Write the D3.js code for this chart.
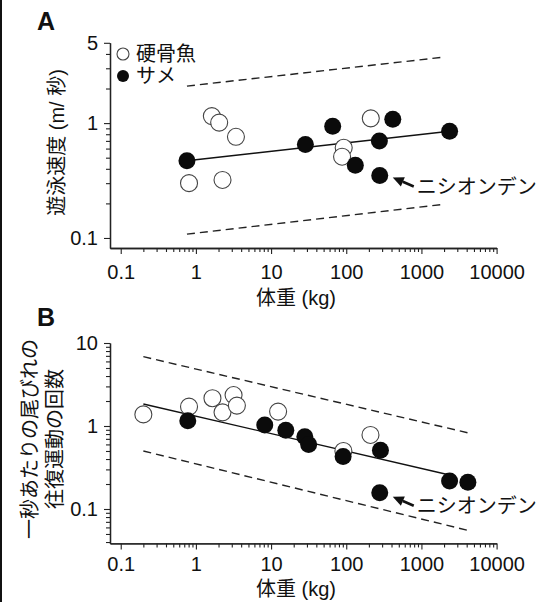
<!DOCTYPE html>
<html><head><meta charset="utf-8">
<script src="https://cdn.jsdelivr.net/npm/d3@7"></script>
<style>body{margin:0;background:#fff}svg{display:block}</style>
</head><body>
<svg id="c" width="543" height="602"></svg>
<script>
// ---------- data ----------
const majorTicksX = [0.1, 1, 10, 100, 1000, 10000];
const majorTicksYA = [0.1, 1, 5];
const majorTicksYB = [0.1, 1, 10];
const xTitle = "体重 (kg)";
const yTitleA = "遊泳速度 (m/ 秒)";
const yTitleB = ["一秒あたりの尾びれの", "往復運動の回数"];
const legendLabels = ["硬骨魚", "サメ"];
const noteLabel = "ニシオンデン";

// Panel A: swimming speed (m/s)
const boneMassA  = [1.63, 2.04, 3.41, 0.81, 2.26, 212, 92.5, 88];
const boneSpeedA = [1.15, 1.01, 0.76, 0.30, 0.32, 1.10, 0.61, 0.51];
const sharkMassA  = [0.76, 28.6, 66, 276, 416, 2370, 132, 279];
const sharkSpeedA = [0.47, 0.65, 0.94, 0.70, 1.08, 0.85, 0.43, 0.35];
const fitMassA = [0.76, 2370];
const fitSpeedA = [0.47, 0.85];
const bandMassA = [0.76, 2050];
const upperSpeedA = [2.10, 3.76];
const lowerSpeedA = [0.108, 0.197];
const noteIndexA = 7; // Greenland shark

// Panel B: tail-beat frequency (per second)
const boneMassB = [0.20, 0.81, 1.66, 3.17, 2.26, 3.51, 12.4, 91.6, 210];
const boneFreqB = [1.38, 1.71, 2.16, 2.36, 1.46, 1.76, 1.49, 0.50, 0.78];
const sharkMassB = [0.78, 8.24, 15.7, 28.1, 31.6, 90.8, 285, 2370, 4150, 279];
const sharkFreqB = [1.16, 1.03, 0.89, 0.74, 0.60, 0.43, 0.51, 0.217, 0.21, 0.157];
const fitMassB = [0.2, 2370];
const fitFreqB = [1.84, 0.257];
const bandMassB = [0.2, 4100];
const upperFreqB = [6.84, 0.83];
const lowerFreqB = [0.50, 0.0554];
const noteIndexB = 9;

// ---------- drawing ----------
const FONT = "'Liberation Sans', Arial, 'Noto Sans CJK JP', sans-serif";
const svg = d3.select("#c");
svg.append("rect").attr("width", 543).attr("height", 602).attr("fill", "#fff");
svg.append("line").attr("x1", 1).attr("x2", 1).attr("y1", 0).attr("y2", 602)
  .attr("stroke", "#111").attr("stroke-width", 2);

const R = 8.5;

function panel(cfg) {
  const x = d3.scaleLog().domain([0.072, 10000]).range([110, 496.6]);
  const y = d3.scaleLog().domain(cfg.yDomain).range(cfg.yRange);
  const g = svg.append("g");

  const minorX = x.ticks().filter(v => v >= 0.1 && v <= 10000 && !majorTicksX.includes(v));
  const minorY = y.ticks().filter(v => v >= cfg.minYTick && !cfg.majorY.includes(v));
  const x0 = y.range()[0];

  // minor ticks
  g.append("g").attr("transform", `translate(0,${x0})`)
    .call(d3.axisBottom(x).tickValues(minorX).tickSize(4).tickSizeOuter(0).tickFormat(""));
  g.append("g").attr("transform", `translate(110,0)`)
    .call(d3.axisLeft(y).tickValues(minorY).tickSize(4).tickSizeOuter(0).tickFormat(""));
  // major ticks
  g.append("g").attr("transform", `translate(0,${x0})`)
    .call(d3.axisBottom(x).tickValues(majorTicksX).tickSize(6).tickSizeOuter(0)
      .tickPadding(cfg.xPad).tickFormat(d3.format("~g")));
  g.append("g").attr("transform", `translate(110,0)`)
    .call(d3.axisLeft(y).tickValues(cfg.majorY).tickSize(6).tickSizeOuter(0)
      .tickPadding(6).tickFormat(d3.format("~g")));
  g.selectAll(".domain").attr("stroke", "#222").attr("stroke-width", 1.3);
  g.selectAll(".tick line").attr("stroke", "#222").attr("stroke-width", 1.1);
  g.selectAll(".tick text").attr("font-family", FONT).attr("font-size", 20).attr("fill", "#111");

  // bands
  const line = d3.line().x(d => x(d[0])).y(d => y(d[1]));
  [cfg.upper, cfg.lower].forEach(vals => {
    g.append("path").attr("d", line(d3.zip(cfg.bandMass, vals)))
      .attr("fill", "none").attr("stroke", "#222").attr("stroke-width", 1.4)
      .attr("stroke-dasharray", "8,5");
  });
  g.append("path").attr("d", line(d3.zip(cfg.fitMass, cfg.fit)))
    .attr("fill", "none").attr("stroke", "#111").attr("stroke-width", 1.4);

  g.selectAll(".open").data(d3.zip(cfg.boneMass, cfg.bone)).join("circle")
    .attr("cx", d => x(d[0])).attr("cy", d => y(d[1])).attr("r", R)
    .attr("fill", "#fff").attr("stroke", "#444").attr("stroke-width", 1.1);
  g.selectAll(".filled").data(d3.zip(cfg.sharkMass, cfg.shark)).join("circle")
    .attr("cx", d => x(d[0])).attr("cy", d => y(d[1])).attr("r", R)
    .attr("fill", "#0b0b0b");

  // annotation arrow
  const px = x(cfg.sharkMass[cfg.noteIdx]), py = y(cfg.shark[cfg.noteIdx]);
  const hx = px + 13, hy = py + cfg.headDy;
  const tx = px + 34, ty = hy + 9;
  const ang = Math.atan2(hy - ty, hx - tx);
  const L = 11, W = 5;
  const bx = hx - L * Math.cos(ang), by = hy - L * Math.sin(ang);
  g.append("line").attr("x1", tx).attr("y1", ty).attr("x2", bx).attr("y2", by)
    .attr("stroke", "#111").attr("stroke-width", 2.6);
  g.append("path").attr("d", `M${hx},${hy} L${bx + W * Math.sin(ang)},${by - W * Math.cos(ang)} L${bx - W * Math.sin(ang)},${by + W * Math.cos(ang)} Z`)
    .attr("fill", "#111");
  g.append("text").attr("x", px + 37).attr("y", ty).attr("dy", "0.36em")
    .attr("font-family", FONT).attr("font-size", 20).attr("fill", "#111").text(noteLabel);

  // x title
  g.append("text").attr("x", 296).attr("y", cfg.xTitleY).attr("text-anchor", "middle")
    .attr("dy", "0.36em").attr("font-family", FONT).attr("font-size", 20).attr("fill", "#111").text(xTitle);
  // panel letter
  g.append("text").attr("x", 37).attr("y", cfg.letterY).attr("font-family", FONT)
    .attr("font-weight", "bold").attr("font-size", 25).attr("fill", "#111").text(cfg.letter);
  return {x, y, g};
}

panel({
  yDomain: [0.0818, 5], yRange: [248, 42.8], majorY: majorTicksYA, minYTick: 0.1,
  boneMass: boneMassA, bone: boneSpeedA, sharkMass: sharkMassA, shark: sharkSpeedA,
  fitMass: fitMassA, fit: fitSpeedA, bandMass: bandMassA, upper: upperSpeedA, lower: lowerSpeedA,
  noteIdx: noteIndexA, headDy: 2, xPad: 11, xTitleY: 298, letter: "A", letterY: 30
});
panel({
  yDomain: [0.0385, 10], yRange: [543.4, 343], majorY: majorTicksYB, minYTick: 0.04,
  boneMass: boneMassB, bone: boneFreqB, sharkMass: sharkMassB, shark: sharkFreqB,
  fitMass: fitMassB, fit: fitFreqB, bandMass: bandMassB, upper: upperFreqB, lower: lowerFreqB,
  noteIdx: noteIndexB, headDy: 4, xPad: 7, xTitleY: 589, letter: "B", letterY: 326
});

// y titles
svg.append("text").attr("transform", "translate(57,142.5) rotate(-90)")
  .attr("text-anchor", "middle").attr("dy", "0.36em").attr("font-family", FONT)
  .attr("font-size", 20).attr("fill", "#111").text(yTitleA);
yTitleB.forEach((t, i) => {
  svg.append("text").attr("transform", `translate(${i ? 55 : 30},439) rotate(-90)`)
    .attr("text-anchor", "middle").attr("dy", "0.36em").attr("font-family", FONT)
    .attr("font-size", 20).attr("fill", "#111").text(t);
});

// legend (panel A)
const legendY = [54, 76];
legendLabels.forEach((t, i) => {
  svg.append("circle").attr("cx", 123).attr("cy", legendY[i]).attr("r", 6)
    .attr("fill", i ? "#0b0b0b" : "#fff").attr("stroke", i ? "none" : "#444").attr("stroke-width", 1.1);
  svg.append("text").attr("x", 136).attr("y", legendY[i]).attr("dy", "0.36em")
    .attr("font-family", FONT).attr("font-size", 20).attr("fill", "#111").text(t);
});
</script>
</body></html>
